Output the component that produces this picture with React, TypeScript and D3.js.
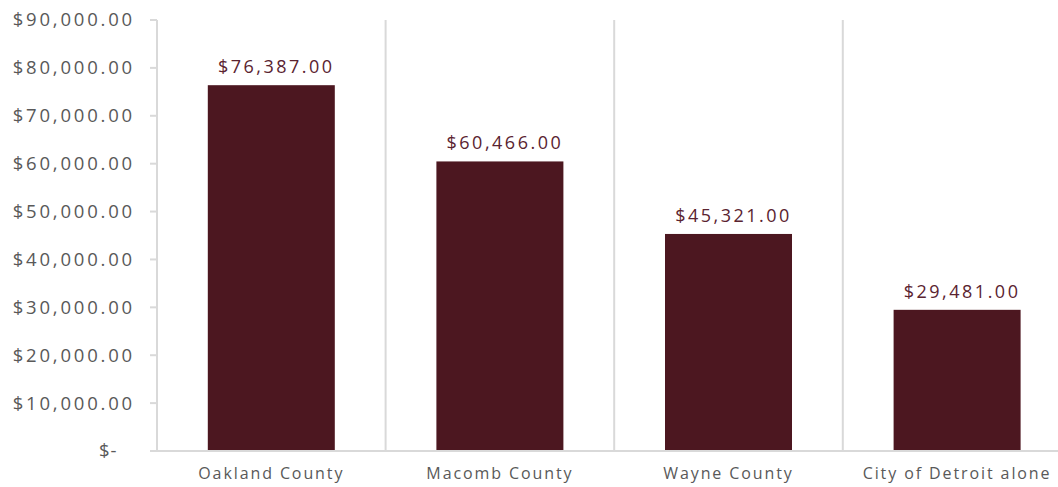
import React from "react";
import * as d3 from "d3";

const categories = ["Oakland County", "Macomb County", "Wayne County", "City of Detroit alone"];
const values = [76387, 60466, 45321, 29481];
const yTicks = [0, 10000, 20000, 30000, 40000, 50000, 60000, 70000, 80000, 90000];

const W = 1058, H = 487;
const left = 157, top = 20, bottom = 451;
const band = 228.6;

const fmt = (v: number) => v === 0 ? "$-\u00a0\u00a0\u00a0" : "$" + d3.format(",.2f")(v);

export default function App() {
  const x = d3.scaleBand<string>().domain(categories).range([left, left + band * categories.length]).paddingInner(0).paddingOuter(0);
  const y = d3.scaleLinear().domain([0, 90000]).range([bottom, top]);
  const bw = 127;
  const grid = "#d9d9d9";
  const font = "'Open Sans', sans-serif";
  return (
    <svg width={W} height={H} style={{ position: "absolute", left: 0, top: 0, background: "#fff" }}>
      {categories.slice(1).map((c) => (
        <line key={c} x1={x(c)!} x2={x(c)!} y1={top} y2={bottom} stroke={grid} strokeWidth={2} />
      ))}
      <line x1={left} x2={left} y1={top} y2={bottom} stroke={grid} strokeWidth={2} />
      {yTicks.map((t) => (
        <g key={t}>
          <line x1={left - 7} x2={left} y1={y(t)} y2={y(t)} stroke={grid} strokeWidth={2} />
          <text x={left - 22} y={y(t)} dy="0.35em" textAnchor="end" fontFamily={font} fontSize={18.5} fill="#595959" letterSpacing={t === 0 ? 1 : 2.8} style={{ whiteSpace: "pre" }}>{fmt(t)}</text>
        </g>
      ))}
      {categories.map((c, i) => {
        const cx = x(c)! + x.bandwidth() / 2;
        return (
          <g key={c}>
            <rect x={cx - bw / 2} y={y(values[i])} width={bw} height={bottom - y(values[i])} fill="#4c1720" />
            <text x={cx + 5} y={y(values[i]) - 12} textAnchor="middle" fontFamily={font} fontSize={18} fill="#5a2330" letterSpacing={2.5}>{fmt(values[i])}</text>
            <text x={cx} y={479} textAnchor="middle" fontFamily={font} fontSize={16} fill="#595959" letterSpacing={1.9}>{c}</text>
          </g>
        );
      })}
      <line x1={left - 7} x2={W} y1={bottom} y2={bottom} stroke={grid} strokeWidth={2} />
    </svg>
  );
}
